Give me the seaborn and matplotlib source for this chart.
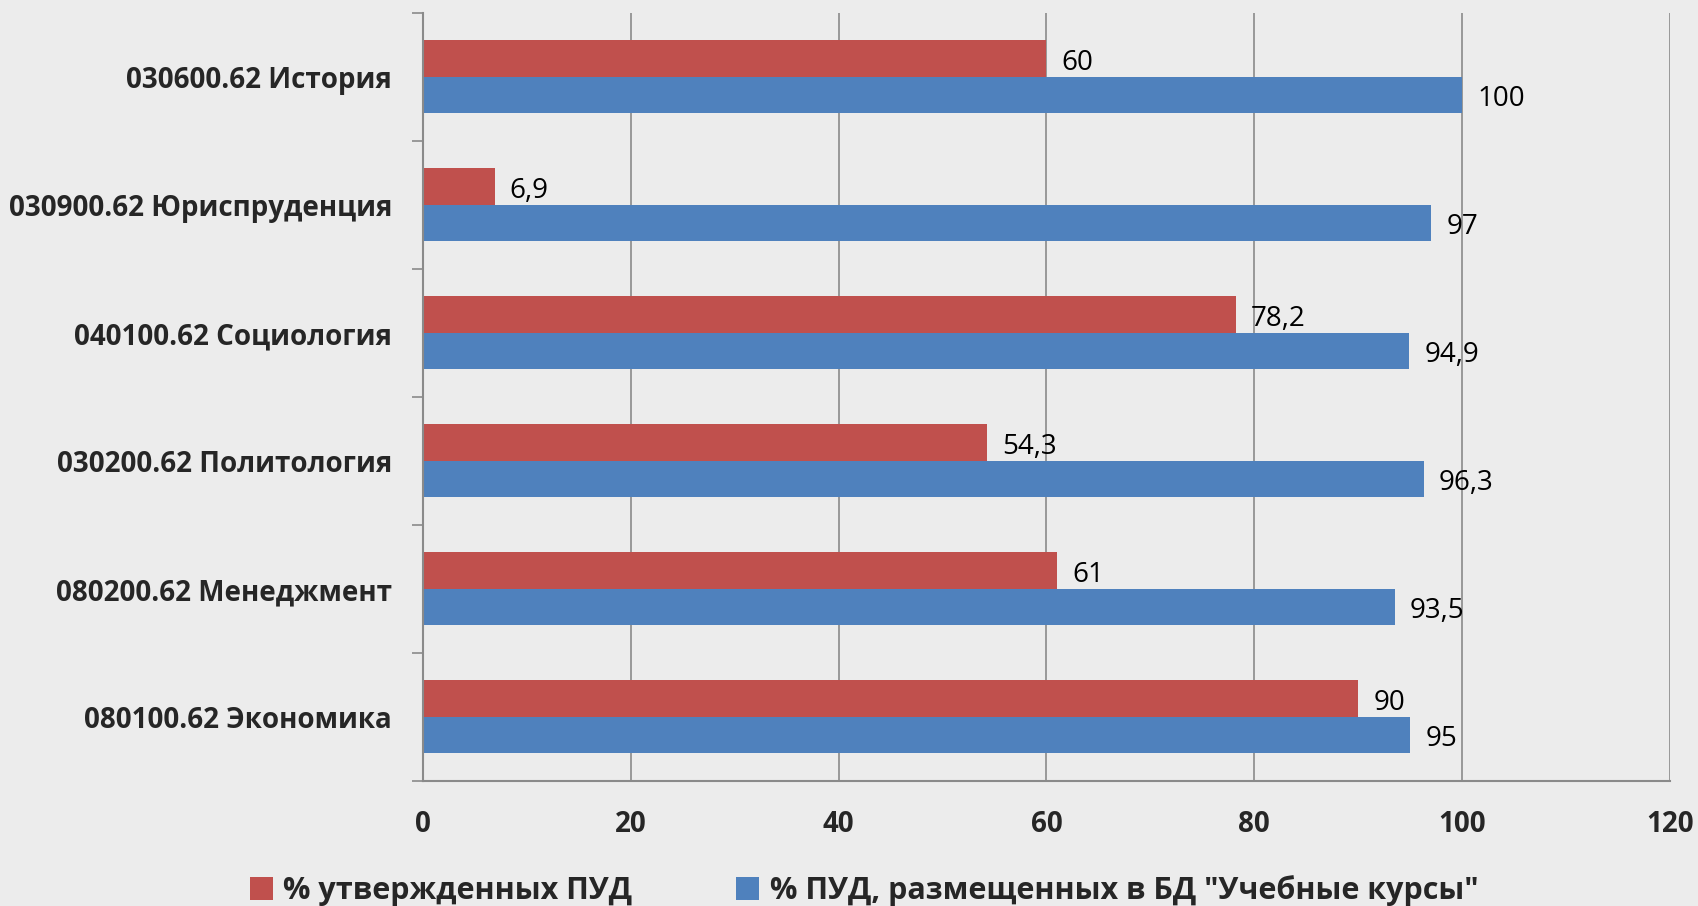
import pandas as pd
import matplotlib
matplotlib.use("Agg")
import matplotlib.pyplot as plt
import seaborn as sns
from matplotlib.ticker import FixedLocator

# Data
programs = [
    "030600.62 История",
    "030900.62 Юриспруденция",
    "040100.62 Социология",
    "030200.62 Политология",
    "080200.62 Менеджмент",
    "080100.62 Экономика",
]
approved = [60, 6.9, 78.2, 54.3, 61, 90]
published = [100, 97, 94.9, 96.3, 93.5, 95]
series_names = ['% утвержденных ПУД', '% ПУД, размещенных в БД "Учебные курсы"']

df = pd.DataFrame({
    "Программа": programs * 2,
    "Значение": approved + published,
    "Серия": [series_names[0]] * len(programs) + [series_names[1]] * len(programs),
})

sns.set_style("white")
plt.rcParams["font.family"] = ["Open Sans", "DejaVu Sans"]

bg = "#ececec"
fig = plt.figure(figsize=(16.98, 9.06), dpi=100, facecolor=bg)
ax = fig.add_axes([0.249, 0.138, 0.9835 - 0.249, 0.9857 - 0.138])
ax.set_facecolor(bg)

sns.barplot(data=df, x="Значение", y="Программа", hue="Серия",
            hue_order=series_names, order=programs,
            palette=["#C0504D", "#4F81BD"], width=0.57, saturation=1,
            edgecolor="none", ax=ax, legend=True)

for cont in ax.containers:
    labels = [f"{v:g}".replace(".", ",") for v in cont.datavalues]
    texts = ax.bar_label(cont, labels=labels, padding=11, fontsize=20, color="black")
    # nudge labels slightly down, as in the original
    for t in texts:
        t.xyann = (11, -3)

ax.set_xlim(0, 120)
ax.set_ylim(5.5, -0.5)
ax.set_xticks(range(0, 121, 20))
ax.xaxis.grid(True, color="#8a8a8a", linewidth=1.2)
ax.set_axisbelow(True)
ax.set_xlabel("")
ax.set_ylabel("")

for s in ["top", "right"]:
    ax.spines[s].set_visible(False)
for s in ["left", "bottom"]:
    ax.spines[s].set_color("#8a8a8a")
    ax.spines[s].set_linewidth(1.5)

ax.tick_params(axis="x", direction="out", length=8, width=1.2, color="#8a8a8a",
               pad=13, labelsize=20)
for t in ax.get_xticklabels():
    t.set_fontweight("bold")
ax.tick_params(axis="y", which="major", length=0, pad=22, labelsize=20)
for t in ax.get_yticklabels():
    t.set_fontweight("bold")
ax.yaxis.set_minor_locator(FixedLocator([i - 0.5 for i in range(len(programs) + 1)]))
ax.tick_params(axis="y", which="minor", direction="out", length=8, width=1.2,
               color="#8a8a8a", left=True)

ax.legend(loc="center", bbox_to_anchor=(0.509, 0.017), bbox_transform=fig.transFigure,
          ncol=2, frameon=False, handlelength=0.75, handleheight=0.75,
          handletextpad=0.35, columnspacing=3.4, borderaxespad=0,
          prop={"size": 22, "weight": "bold"})

fig.savefig("out.png", dpi=100, facecolor=bg)
